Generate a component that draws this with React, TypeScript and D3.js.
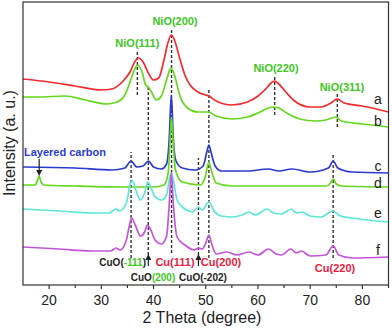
import React from 'react'
import * as d3 from 'd3'

// [2theta, intensity (a.u.)]
const seriesA: [number, number][] = [[15, 206], [20, 203], [25, 199], [30, 195], [32, 196], [34, 203], [35.5, 213], [36.5, 224], [37.1, 227], [38, 223], [39, 212], [40, 205], [41, 207], [42, 225], [42.8, 243], [43.4, 250], [44, 245], [45, 227], [46, 210], [47, 200], [48.5, 193], [50, 190], [50.6, 189], [52, 184], [55, 180], [58, 183], [60, 189], [61.5, 196], [62.5, 202], [63.2, 204], [64, 201], [65.5, 192], [67, 184], [70, 178], [72, 178], [74, 182], [75.2, 186], [76.5, 182], [80, 179], [85, 173]]
const seriesB: [number, number][] = [[15, 188], [18, 188], [23, 189], [27, 185], [31, 181], [33, 183], [34.5, 190], [35.5, 203], [36.5, 217], [37, 220], [37.8, 213], [38.5, 200], [39, 198], [39.6, 193], [40.5, 185], [41.5, 189], [42.5, 205], [43.1, 215], [43.4, 217], [44, 210], [45, 190], [46.5, 177], [48.5, 173], [50.5, 173], [52, 169], [55, 166], [58, 168], [60, 172], [62, 177], [63, 178], [64, 177], [65.5, 172], [68, 166], [71, 164], [73, 165], [74.9, 168], [76, 164], [80, 161], [85, 158]]
const seriesC: [number, number][] = [[15, 118], [25, 117], [32, 115], [34.5, 117], [35.7, 124], [36.8, 118], [38, 119], [39, 124], [40, 118], [41.5, 116], [42.5, 121], [43.0, 145], [43.4, 190], [43.8, 145], [44.3, 124], [45.5, 117], [48, 115], [49.5, 119], [50.2, 133], [50.6, 140], [51.0, 133], [51.8, 119], [53, 114], [58, 114], [62, 116], [64, 114], [66.5, 116], [70, 113], [73.5, 117], [74.4, 124], [75.3, 117], [78, 113], [85, 112]]
const seriesD: [number, number][] = [[15, 100], [17.3, 100], [17.8, 105], [18.1, 109], [18.4, 104], [19, 100], [25, 99], [35, 98], [40, 98], [42, 100], [42.8, 112], [43.2, 148], [43.45, 168], [43.7, 148], [44.2, 115], [45.5, 103], [49, 100], [49.9, 108], [50.6, 123], [51.1, 114], [52, 102], [55, 99], [73, 99], [73.9, 102], [74.4, 106], [75, 101], [76, 99], [85, 98]]
const seriesE: [number, number][] = [[15, 76], [22, 74], [28, 72], [31.5, 72], [32.8, 76], [33.5, 74], [34.8, 82], [35.6, 102], [36, 104], [36.6, 95], [37.5, 85], [38.3, 92], [38.9, 103], [39.3, 100], [40.2, 89], [41.5, 85], [42.5, 90], [43.0, 105], [43.4, 112], [43.8, 105], [44.5, 85], [46, 76], [47.5, 73], [48.6, 78], [49.3, 75], [50.6, 83], [51.6, 74], [53, 69], [55, 68], [57, 70], [58.3, 73], [59.5, 70], [61.8, 76], [63, 72], [64.5, 71], [66.4, 76], [67.3, 72], [68.3, 73], [70, 69], [72, 68], [74.4, 74], [75.8, 69], [78, 67], [85, 63]]
const seriesF: [number, number][] = [[15, 38], [22, 36], [28, 34], [31.8, 34], [32.8, 37], [33.6, 35], [34.8, 45], [35.4, 60], [35.8, 67], [36.5, 60], [37.5, 49], [38.3, 53], [38.8, 60], [39.3, 57], [40.3, 45], [41.5, 41], [42.5, 49], [43.0, 80], [43.4, 112], [43.8, 80], [44.5, 48], [46, 40], [47.8, 35], [48.6, 37], [49.3, 36], [50, 42], [50.6, 50], [51.2, 40], [52, 31], [54, 33], [56, 30], [58.3, 33], [60, 30], [62, 36], [63.5, 31], [64.5, 30], [66.3, 36], [67.3, 32], [68.3, 34], [70, 29], [73, 30], [74.4, 39], [75.5, 30], [78, 27], [85, 28]]

const seriesNames = ['a', 'b', 'c', 'd', 'e', 'f']
const seriesColors = ['#f52a2e', '#66d81c', '#2a3ad0', '#66d81c', '#5ce8d6', '#c455d8']
const allSeries = [seriesA, seriesB, seriesC, seriesD, seriesE, seriesF]
const nameLevels = [186, 164, 119, 102, 72, 35]

const xTicks = [20, 30, 40, 50, 60, 70, 80]
const xMinor = [25, 35, 45, 55, 65, 75, 85]

// dashed reference lines: [2theta, bottom, top]
const refLines: [number, number, number][] = [[35.7, 27, 133], [36.9, 190, 235], [39.0, 30, 198], [43.45, 32, 257], [48.6, 30, 127], [50.6, 27, 197], [63.2, 170, 210], [74.4, 27, 132], [75.2, 158, 192]]

export default function App() {
  const W = 392, H = 328
  const m = { l: 23, r: 3.5, t: 2, b: 43 }
  const x = d3.scaleLinear().domain([15, 85]).range([m.l, W - m.r])
  const y = d3.scaleLinear().domain([0, 283]).range([H - m.b, m.t])
  const line = d3.line<[number, number]>().x(d => x(d[0])).y(d => y(d[1])).curve(d3.curveMonotoneX)
  const font = '"Liberation Sans", Arial, sans-serif'
  const green = '#3cc81e', red = '#ee2040', blue = '#2a3ccf'
  const yb = H - m.b

  return (
    <svg width={W} height={H} style={{ position: 'absolute', left: 0, top: 0, background: '#fff' }} fontFamily={font}>
      {refLines.map(([t, lo, hi], i) => (
        <line key={'r' + i} x1={x(t)} x2={x(t)} y1={y(lo)} y2={y(hi)} stroke="#333" strokeWidth={1.4} strokeDasharray="3,2" />
      ))}
      {allSeries.map((s, i) => (
        <path key={'s' + i} d={line(s) ?? ''} fill="none" stroke={seriesColors[i]} strokeWidth={1.7} />
      ))}
      <rect x={m.l} y={m.t} width={W - m.r - m.l} height={yb - m.t} fill="none" stroke="#333" strokeWidth={1.2} />
      {xTicks.map(t => (
        <g key={'t' + t}>
          <line x1={x(t)} x2={x(t)} y1={yb} y2={yb + 4} stroke="#333" strokeWidth={1.2} />
          <text x={x(t)} y={yb + 20} textAnchor="middle" fontSize={14} fill="#222">{t}</text>
        </g>
      ))}
      {xMinor.map(t => (
        <line key={'m' + t} x1={x(t)} x2={x(t)} y1={yb} y2={yb + 3} stroke="#333" strokeWidth={1.2} />
      ))}
      <text x={202} y={323} textAnchor="middle" fontSize={16} fill="#222">2 Theta (degree)</text>
      <text transform="translate(15,143) rotate(-90)" textAnchor="middle" fontSize={16} fill="#222">Intensity (a. u.)</text>
      {seriesNames.map((n, i) => (
        <text key={'n' + n} x={378} y={y(nameLevels[i])} dy="0.35em" textAnchor="middle" fontSize={14} fill="#222">{n}</text>
      ))}
      <g fontWeight="bold" fontSize={11}>
        <text x={x(36.9)} y={47} textAnchor="middle" fill={green}>NiO(111)</text>
        <text x={175} y={25} textAnchor="middle" fill={green}>NiO(200)</text>
        <text x={276} y={72} textAnchor="middle" fill={green}>NiO(220)</text>
        <text x={342} y={91} textAnchor="middle" fill={green}>NiO(311)</text>
        <text x={24} y={156} fill={blue}>Layered carbon</text>
        <text x={175} y={266} textAnchor="middle" fill={red}>Cu(111)</text>
        <text x={221} y={266} textAnchor="middle" fill={red}>Cu(200)</text>
        <text x={335} y={272} textAnchor="middle" fill={red}>Cu(220)</text>
      </g>
      <g fontWeight="bold" fontSize={10} fill="#222">
        <text x={146} y={266} textAnchor="end">CuO(<tspan fill={green}>-111</tspan>)</text>
        <text x={153} y={281} textAnchor="middle">CuO<tspan fill={green}>(200)</tspan></text>
        <text x={203} y={281} textAnchor="middle">CuO(-202)</text>
      </g>
      <defs>
        <marker id="ah" viewBox="0 0 6 6" refX={3} refY={3} markerWidth={5} markerHeight={5} orient="auto-start-reverse">
          <path d="M0,0L6,3L0,6z" fill="#222" />
        </marker>
      </defs>
      <line x1={x(18.1)} x2={x(18.1)} y1={159} y2={173} stroke="#222" strokeWidth={1.2} markerEnd="url(#ah)" />
      <line x1={x(39.0)} x2={x(39.0)} y1={266} y2={257} stroke="#222" strokeWidth={1.2} markerEnd="url(#ah)" />
      <line x1={x(48.6)} x2={x(48.6)} y1={266} y2={257} stroke="#222" strokeWidth={1.2} markerEnd="url(#ah)" />
    </svg>
  )
}
